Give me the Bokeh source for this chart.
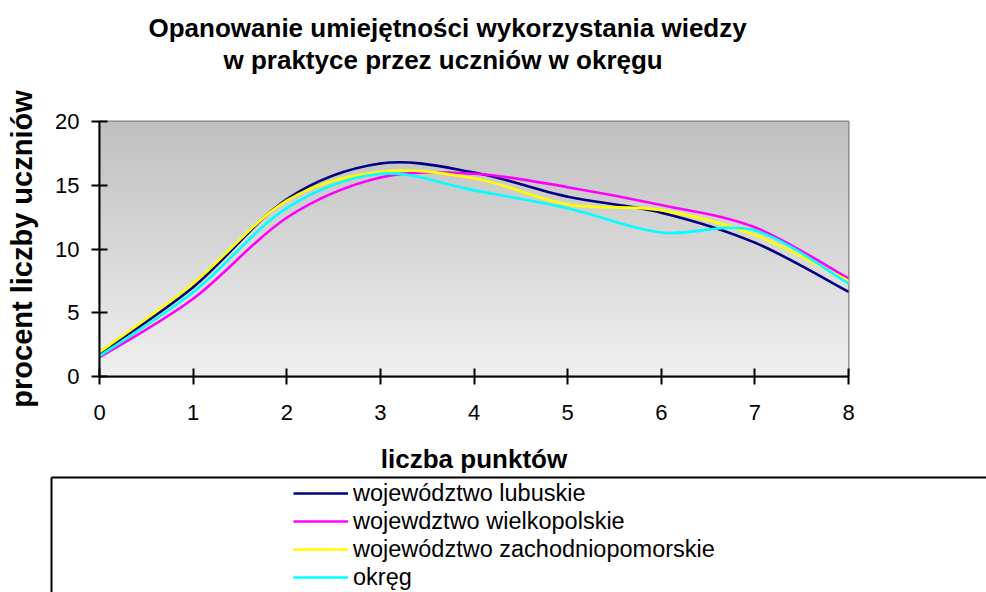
import numpy as np
from bokeh.plotting import figure
from bokeh.layouts import column
from bokeh.models import (Range1d, FixedTicker, Legend, LegendItem, Title, LinearAxis)
from bokeh.embed import file_html
from bokeh.resources import INLINE

# ---- data ----
points = [0, 1, 2, 3, 4, 5, 6, 7, 8]
y_ticks = [0, 5, 10, 15, 20]
series_names = ["województwo lubuskie", "wojewdztwo wielkopolskie",
                "województwo zachodniopomorskie", "okręg"]
lubuskie = [1.8, 7.0, 13.9, 16.7, 16.0, 14.1, 12.85, 10.5, 6.65]
wielkopolskie = [1.5, 6.1, 12.45, 15.6, 15.9, 14.85, 13.45, 11.7, 7.7]
zachodniopomorskie = [1.9, 7.3, 13.8, 16.05, 15.55, 13.5, 13.05, 11.1, 7.5]
okreg = [1.6, 6.6, 13.2, 15.9, 14.6, 13.2, 11.3, 11.45, 7.3]
series = [lubuskie, wielkopolskie, zachodniopomorskie, okreg]
colors = ["#000080", "#FF00FF", "#FFFF00", "#00FFFF"]
title_lines = ["Opanowanie umiejętności wykorzystania wiedzy",
               "w praktyce przez uczniów w okręgu"]

FONT = "Liberation Sans"

# ================= chart =================
p = figure(width=986, height=476, output_backend="svg", toolbar_location=None,
           x_range=Range1d(points[0], points[-1]), y_range=Range1d(y_ticks[0], y_ticks[-1]),
           min_border_left=99, min_border_right=138, min_border_top=121,
           min_border_bottom=99)
p.frame_align = False
p.background_fill_color = "white"
p.border_fill_color = "white"
p.grid.visible = False
p.outline_line_color = "#808080"
p.outline_line_width = 2

# gradient background of plot area
n = 256
t = np.linspace(0, 1, n)  # 0 bottom -> 1 top
g = (240 - (240 - 192) * t).astype(np.uint32)
img = np.zeros((n, 2), dtype=np.uint32)
view = img.view(dtype=np.uint8).reshape((n, 2, 4))
view[:, :, 0] = g[:, None]
view[:, :, 1] = g[:, None]
view[:, :, 2] = g[:, None]
view[:, :, 3] = 255
p.image_rgba(image=[img], x=points[0], y=y_ticks[0],
             dw=points[-1] - points[0], dh=y_ticks[-1] - y_ticks[0])

# smoothed lines (Catmull-Rom style Bezier, as in spreadsheet smoothed lines)
xs = np.array(points, dtype=float)
for name, ys, col in zip(series_names, series, colors):
    ys = np.array(ys, dtype=float)
    m = len(xs)
    x0s, y0s, x1s, y1s, cx0, cy0, cx1, cy1 = [], [], [], [], [], [], [], []
    for i in range(m - 1):
        ia, ib, ic, idd = max(i - 1, 0), i, i + 1, min(i + 2, m - 1)
        x0s.append(xs[ib]); y0s.append(ys[ib])
        x1s.append(xs[ic]); y1s.append(ys[ic])
        cx0.append(xs[ib] + (xs[ic] - xs[ia]) / 6); cy0.append(ys[ib] + (ys[ic] - ys[ia]) / 6)
        cx1.append(xs[ic] - (xs[idd] - xs[ib]) / 6); cy1.append(ys[ic] - (ys[idd] - ys[ib]) / 6)
    p.bezier(x0=x0s, y0=y0s, x1=x1s, y1=y1s, cx0=cx0, cy0=cy0, cx1=cx1, cy1=cy1,
             line_color=col, line_width=2.6, line_cap="round")

# axes
for ax in (p.xaxis[0], p.yaxis[0]):
    ax.axis_line_color = "black"
    ax.axis_line_width = 2
    ax.major_tick_line_color = "black"
    ax.major_tick_line_width = 2
    ax.major_tick_in = 8
    ax.major_tick_out = 8
    ax.minor_tick_line_color = None
    ax.major_label_text_font = FONT
    ax.major_label_text_font_size = "22px"
    ax.major_label_text_color = "black"
    ax.axis_label_text_font = FONT
    ax.axis_label_text_font_style = "bold"
    ax.axis_label_text_color = "black"

p.xaxis.ticker = FixedTicker(ticks=points)
p.yaxis.ticker = FixedTicker(ticks=y_ticks)
p.xaxis.axis_label = "liczba punktów"
p.yaxis.axis_label = "procent liczby uczniów"
p.xaxis.axis_label_text_font_size = "26px"
p.yaxis.axis_label_text_font_size = "29px"
p.xaxis.major_label_standoff = 20
p.yaxis.major_label_standoff = 12
p.xaxis.axis_label_standoff = 21
p.yaxis.axis_label_standoff = 14

# title (two lines); stacked outward from the frame: spacer, line 2, line 1
p.add_layout(Title(text=" ", text_font_size="10px", standoff=34), "above")
p.add_layout(Title(text=title_lines[1], align="left", offset=124, standoff=0,
                   text_font=FONT, text_font_size="26px", text_font_style="bold",
                   text_color="black"), "above")
p.add_layout(Title(text=title_lines[0], align="left", offset=49, standoff=0,
                   text_font=FONT, text_font_size="26px", text_font_style="bold",
                   text_color="black"), "above")

# ================= legend box =================
q = figure(width=986, height=116, output_backend="svg", toolbar_location=None,
           x_range=Range1d(points[0], points[-1]), y_range=Range1d(100, 101),
           x_axis_location=None, y_axis_location=None,
           min_border_left=51, min_border_right=0, min_border_top=1, min_border_bottom=0)
q.frame_align = False
q.background_fill_color = "white"
q.border_fill_color = "white"
q.outline_line_color = None
q.grid.visible = False
for side in ("left", "above"):
    a = LinearAxis(ticker=FixedTicker(ticks=[]), axis_line_color="black", axis_line_width=2,
                   major_tick_in=0, major_tick_out=0, minor_tick_line_color=None,
                   major_label_standoff=0, major_label_text_font_size="0px")
    q.add_layout(a, side)

items = []
for name, ys, col in zip(series_names, series, colors):
    r = q.line(x=points, y=ys, line_color=col, line_width=2.6, visible=False)
    items.append(LegendItem(label=name, renderers=[r]))

legend = Legend(items=items, location=(242, 1), orientation="vertical",
                padding=0, margin=0, spacing=0, glyph_width=55, glyph_height=28,
                label_height=28, label_standoff=5,
                label_text_font=FONT, label_text_font_size="23.5px",
                label_text_color="black", border_line_color=None,
                background_fill_alpha=0, inactive_fill_alpha=0)
q.add_layout(legend, "center")

layout = column(p, q, spacing=0)
open("out.html", "w").write(file_html(layout, INLINE))
